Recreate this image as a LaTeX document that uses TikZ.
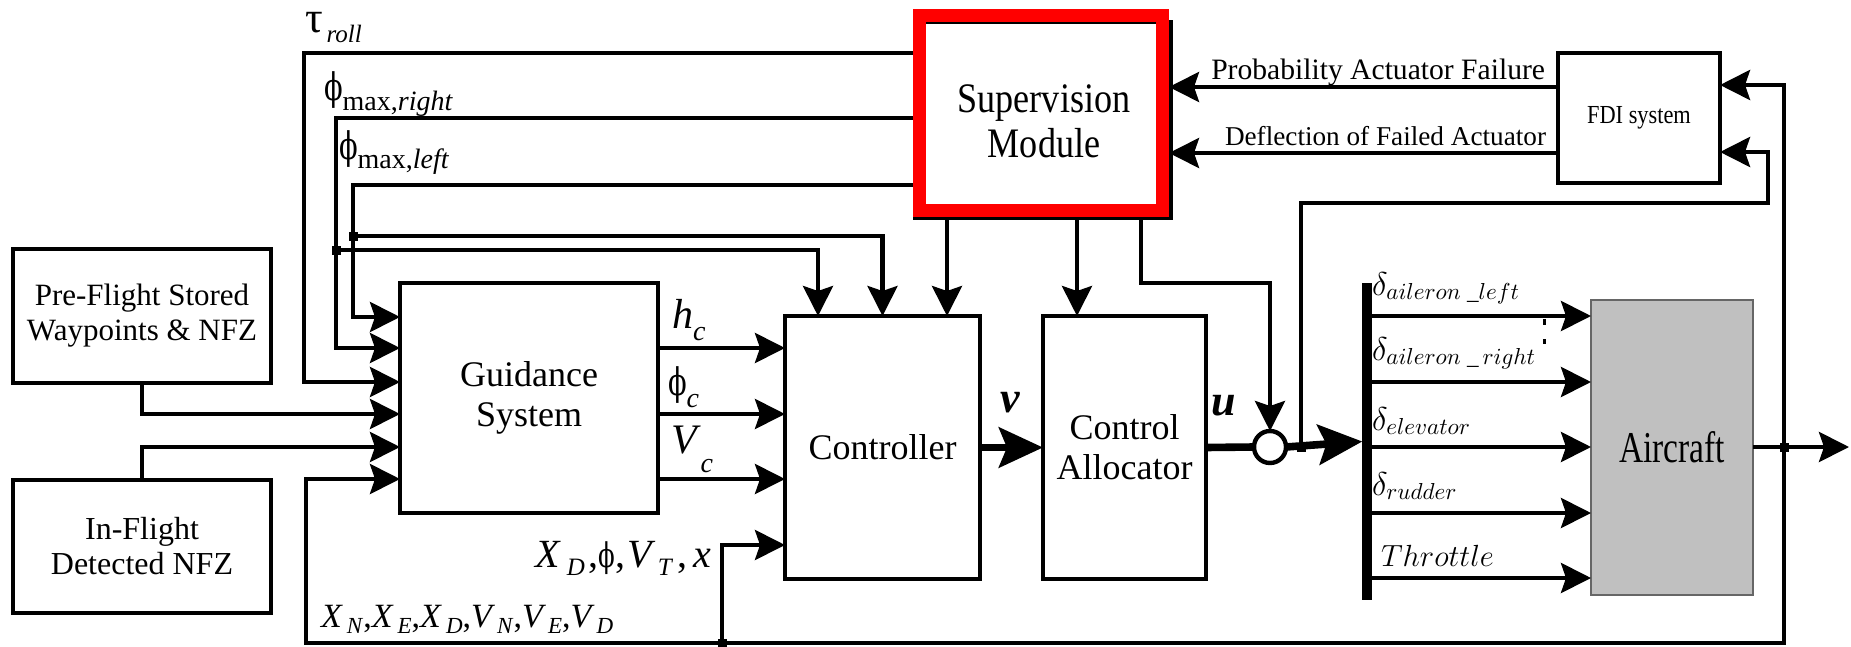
\RequirePackage{fix-cm}
\documentclass[tikz,border=0pt]{standalone}
\usepackage{amsmath}
\usepackage{fontspec}
\setmainfont{Liberation Serif}
\newfontfamily\narrowA[FakeStretch=0.76]{Liberation Serif}
\newfontfamily\narrowB[FakeStretch=0.86]{Liberation Serif}
\newfontfamily\phfont[FakeStretch=0.72]{DejaVu Serif}
\usetikzlibrary{arrows.meta}
\definecolor{acgray}{RGB}{192,192,192}
% lowered, smaller text used for subscripts
\newcommand\sbx[3]{\raisebox{-#1}{\fontsize{#2}{#2}\selectfont #3}}
% upright stroked phi at a given size
\newcommand\ph[1]{{\phfont\fontsize{#1}{#1}\selectfont ϕ}}

\begin{document}
\begin{tikzpicture}[x=0.5pt,y=-0.5pt,
  box/.style={draw, line width=2.4pt, fill=white, inner sep=0pt, outer sep=0pt, align=center},
  conn/.style={line width=2.1pt, -{Stealth[length=15pt,width=15pt,inset=2.5pt]}},
  thickconn/.style={line width=3.8pt, -{Stealth[length=22pt,width=20pt,inset=4pt]}},
  junc/.style={fill=black, inner sep=0pt, outer sep=0pt, minimum size=4.5pt},
  lbl/.style={inner sep=0pt, outer sep=0pt},
]
\useasboundingbox (0,0) rectangle (1851,647);

% ---- blocks ----
\node[box, minimum width=129pt, minimum height=67pt, font=\fontsize{15.5}{17.5}\selectfont] (pre) at (142,316) {Pre-Flight Stored\\Waypoints \& NFZ};
\node[box, minimum width=129pt, minimum height=66.5pt, font=\fontsize{16}{17.5}\selectfont] (inf) at (142,546.5) {In-Flight\\Detected NFZ};
\node[box, minimum width=129pt, minimum height=115pt, font=\fontsize{18}{20}\selectfont] (gui) at (529,398) {Guidance\\System};
\node[box, minimum width=97.5pt, minimum height=131.5pt, font=\fontsize{18}{20}\selectfont] (ctl) at (882.5,447.5) {Controller};
\node[box, minimum width=81.5pt, minimum height=131.5pt, font=\fontsize{18}{20}\selectfont] (ca) at (1124.5,447.5) {Control\\Allocator};

% supervision module: black frame under a thick red border
\draw[line width=2pt, fill=white] (915,22) rectangle (1171,218);
\node[draw=red, line width=6.5pt, minimum width=121.5pt, minimum height=97.5pt, inner sep=0pt, outer sep=3.25pt] (sup) at (1041,113) {};
\node[lbl, align=center, font=\narrowB\fontsize{21}{22.5}\selectfont] (suptext) at (1044,121) {Supervision\\Module};

\node[box, minimum width=81pt, minimum height=65pt, font=\narrowB\fontsize{13}{15}\selectfont] (fdi) at (1639,118) {FDI system};
\node[draw=black!60, line width=1pt, fill=acgray, minimum width=81pt, minimum height=147.5pt, inner sep=0pt, outer sep=0pt, font=\narrowA\fontsize{22}{24}\selectfont] (air) at (1672,447.5) {Aircraft};

\node[circle, draw, line width=2.2pt, fill=white, minimum size=16pt, inner sep=0pt, outer sep=0pt] (sum) at (1270,447) {};
\node[fill=black, minimum width=4.7pt, minimum height=158.5pt, inner sep=0pt, outer sep=0pt] (bus) at (1367,441.5) {};

% ---- branch points ----
\coordinate (jl) at (353,236);
\coordinate (jr) at (336,250);
\coordinate (ju) at (1301,447);
\coordinate (jy) at (1784,447);
\coordinate (jb) at (722,643);
\coordinate (yout) at (1849,447);

% ---- limits from the supervision module ----
\draw[conn] (sup.west |- 0,53) -| (304,382) -- (gui.west |- 0,382);
\draw[conn] (sup.west |- 0,118) -| (336,348) -- (gui.west |- 0,348);
\draw[conn] (sup.west |- 0,185) -| (353,317) -- (gui.west |- 0,317);
\draw[conn] (jl) -| (ctl.north);
\draw[conn] (jr) -| (ctl.north -| 818,0);
\draw[conn] (sup.south -| 947,0) -- (ctl.north -| 947,0);
\draw[conn] (sup.south -| 1077,0) -- (ca.north -| 1077,0);
\draw[conn] (sup.south -| 1141,0) |- (1270,283) -- (sum.north);

% ---- FDI ----
\draw[conn] (fdi.west |- 0,87) -- (sup.east |- 0,87);
\draw[conn] (fdi.west |- 0,153) -- (sup.east |- 0,153);
\draw[conn] (ju) -- (1301,203) -| (1768,152) -- (fdi.east |- 0,152);
\draw[conn] (jy) |- (fdi.east |- 0,85);

% ---- waypoints and feedback into guidance ----
\draw[conn] (pre.south) |- (gui.west |- 0,414);
\draw[conn] (inf.north) |- (gui.west |- 0,447);
\draw[line width=2.4pt] (jy) |- (jb);
\draw[line width=2.4pt] (jb) -| (306,600);
\draw[conn] (306,600) |- (gui.west |- 0,479);
\draw[conn] (jb) |- (ctl.west |- 0,545);

% ---- forward path ----
\foreach \yy in {348,414,479} \draw[conn] (gui.east |- 0,\yy) -- (ctl.west |- 0,\yy);
\draw[thickconn] (ctl.east) -- (ca.west);
\draw[line width=3.8pt] (ca.east) -- (sum.west);
\draw[thickconn] (sum.east) -- (bus.west);
\foreach \yy in {316,382,447,513,578} \draw[conn] (bus.east |- 0,\yy) -- (air.west |- 0,\yy);
\draw[conn] (air.east |- 0,447) -- (yout);

% ---- branch marks ----
\foreach \j in {jl,jr,ju,jy,jb} \node[junc] (\j mark) at (\j) {};
\fill (1543,319) rectangle (1546,325);
\fill (1543,339) rectangle (1546,344);

% ---- labels ----
\node[lbl, anchor=base west, font=\fontsize{22}{22}\selectfont] (taulbl) at (305,33) {τ\kern2pt\sbx{5pt}{12.5}{\textit{roll}}};
\node[lbl, anchor=base west, font=\fontsize{22}{22}\selectfont] (phirlbl) at (324,101) {\ph{19}\sbx{5pt}{14}{max,\textit{right}}};
\node[lbl, anchor=base west, font=\fontsize{22}{22}\selectfont] (phillbl) at (339,159) {\ph{19}\sbx{4.5pt}{14}{max,\textit{left}}};

\node[lbl, anchor=base west, font=\fontsize{21}{21}\selectfont] (hlbl) at (672,328) {\textit{h}\sbx{6pt}{14}{\textit{c}}};
\node[lbl, anchor=base west, font=\fontsize{21}{21}\selectfont] (philbl) at (668,395) {\ph{19}\sbx{6pt}{14}{\textit{c}}};
\node[lbl, anchor=base west, font=\fontsize{21}{21}\selectfont] (vclbl) at (671,453) {\textit{V}\sbx{9.5pt}{14}{\textit{c}}};

\node[lbl, anchor=base east, font=\fontsize{20}{20}\selectfont] (xdlbl) at (711,567) {\textit{X}\kern3pt\sbx{4pt}{12.5}{\textit{D}}\kern2pt,\ph{17},\kern1pt\textit{V}\kern1pt\sbx{4pt}{12.5}{\textit{T}}\kern2pt,\kern3pt\textit{x}};
\node[lbl, anchor=base west, font=\fontsize{17}{17}\selectfont] (navlbl) at (321,627) {\textit{X}\kern2pt\sbx{3pt}{11.5}{\textit{N}},\textit{X}\kern2pt\sbx{3pt}{11.5}{\textit{E}},\textit{X}\kern2pt\sbx{3pt}{11.5}{\textit{D}},\textit{V}\kern1pt\sbx{3pt}{11.5}{\textit{N}},\textit{V}\kern1pt\sbx{3pt}{11.5}{\textit{E}},\textit{V}\kern1pt\sbx{3pt}{11.5}{\textit{D}}};

\node[lbl, font=\fontsize{22}{22}\selectfont\bfseries\itshape] (vlbl) at (1010,403) {v};
\node[lbl, font=\fontsize{22}{22}\selectfont\bfseries\itshape] (ulbl) at (1224,406) {u};

\node[lbl, anchor=base east, font=\fontsize{14.8}{16}\selectfont] (pafl) at (1545,80) {Probability Actuator Failure};
\node[lbl, anchor=base east, font=\fontsize{13.6}{16}\selectfont] (dfal) at (1546,145) {Deflection of Failed Actuator};

\begingroup\fontsize{16.5}{18}\selectfont
\node[lbl, anchor=base west] (dal) at (1372,295) {$\delta_{aileron\;\_left}$};
\node[lbl, anchor=base west] (dar) at (1372,360) {$\delta_{aileron\;\_\,right}$};
\node[lbl, anchor=base west] (del) at (1372,430) {$\delta_{elevator}$};
\node[lbl, anchor=base west] (dru) at (1372,495) {$\delta_{rudder}$};
\endgroup
\node[lbl, anchor=base west, font=\fontsize{15.3}{17}\selectfont] (thr) at (1381,566) {$Throttle$};
\end{tikzpicture}
\end{document}
